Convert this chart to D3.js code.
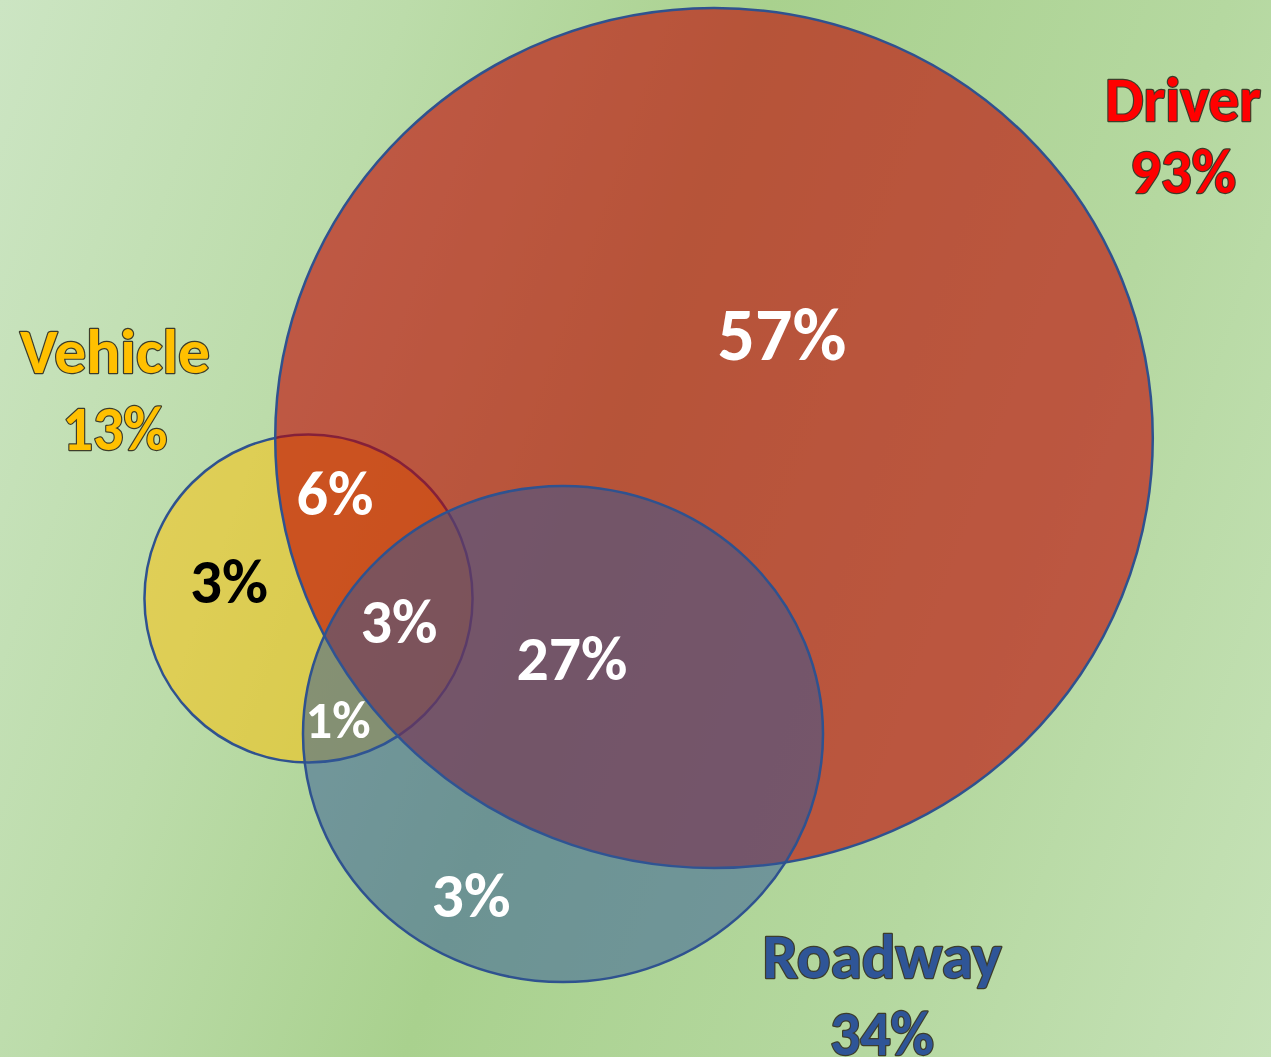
<!DOCTYPE html>
<html>
<head>
<meta charset="utf-8">
<script src="https://cdn.jsdelivr.net/npm/d3@7"></script>
<style>
  html, body { margin: 0; padding: 0; background: #b5d7a0; }
  svg { display: block; }
  text { font-family: Carlito, Calibri, Lato, "Open Sans", sans-serif; font-weight: 700; }
</style>
</head>
<body>
<svg id="chart" width="1271" height="1057"></svg>
<script>
// Share of crashes with a contributing factor in each group
const setNames = ["Vehicle", "Driver", "Roadway"];
const setShares = [13, 93, 34];

// Exclusive overlap regions and their shares
const regionNames = ["Driver only", "Vehicle + Driver", "Vehicle only", "All three",
                     "Driver + Roadway", "Vehicle + Roadway", "Roadway only"];
const regionShares = [57, 6, 3, 3, 27, 1, 3];

const fmt = d => d + "%";

// ---- layout ----
const W = 1271, H = 1057;
const svg = d3.select("#chart");

// area-proportional radius
const radius = d3.scaleSqrt().domain([0, 100]).range([0, 455]);

const shapeLayout = {
  Vehicle: { cx: 308.5, cy: 598.5, ax: 1.0,  ay: 1.0,   fill: "#ffc000", op: 0.5,
             label: "#ffc000", lx: 115, ly: 373, gap: 77, w1: 190, w2: 105 },
  Driver:  { cx: 714,   cy: 438,   ax: 1.0,  ay: 0.98,  fill: "#c00000", op: 0.6,
             label: "#ff0000", lx: 1183, ly: 121, gap: 72, w1: 156, w2: 106 },
  Roadway: { cx: 563,   cy: 734,   ax: 0.98, ay: 0.935, fill: "#2f5597", op: 0.5,
             label: "#2f5597", lx: 882, ly: 978, gap: 77, w1: 239, w2: 104 }
};

const regionLayout = [
  { x: 782, y: 360, size: 74, w: 129, color: "#ffffff" },
  { x: 335, y: 515, size: 63, w: 77,  color: "#ffffff" },
  { x: 229, y: 603, size: 63, w: 78,  color: "#000000" },
  { x: 399, y: 643, size: 63, w: 77,  color: "#ffffff" },
  { x: 572, y: 680, size: 63, w: 111, color: "#ffffff" },
  { x: 338, y: 738, size: 52, w: 65,  color: "#ffffff" },
  { x: 471, y: 917, size: 63, w: 79,  color: "#ffffff" }
];

// ---- background ----
const defs = svg.append("defs");
const bg = defs.append("linearGradient")
  .attr("id", "bg").attr("gradientUnits", "userSpaceOnUse")
  .attr("x1", 0).attr("y1", 0).attr("x2", 1462).attr("y2", 506);
[[0, "#cce5c3"], [0.25, "#bcdcaa"], [0.47, "#a9d18e"], [0.75, "#b5d8a0"], [1, "#c6e2b8"]]
  .forEach(([o, c]) => bg.append("stop").attr("offset", o).attr("stop-color", c));
svg.append("rect").attr("width", W).attr("height", H).attr("fill", "url(#bg)");

// ---- set shapes ----
const sets = setNames.map((name, i) => ({ name, share: setShares[i], ...shapeLayout[name] }));

svg.append("g").selectAll("ellipse")
  .data(sets)
  .join("ellipse")
  .attr("cx", d => d.cx)
  .attr("cy", d => d.cy)
  .attr("rx", d => radius(d.share) * d.ax)
  .attr("ry", d => radius(d.share) * d.ay)
  .attr("fill", d => d.fill)
  .attr("fill-opacity", d => d.op)
  .attr("stroke", "#2f528f")
  .attr("stroke-width", 2.5);

// ---- region values ----
const regions = regionNames.map((name, i) => ({ name, share: regionShares[i], ...regionLayout[i] }));

svg.append("g").selectAll("text")
  .data(regions)
  .join("text")
  .attr("x", d => d.x)
  .attr("y", d => d.y)
  .attr("text-anchor", "middle")
  .attr("font-size", d => d.size)
  .attr("textLength", d => d.w)
  .attr("lengthAdjust", "spacingAndGlyphs")
  .attr("fill", d => d.color)
  .text(d => fmt(d.share));

// ---- set labels ----
const labels = svg.append("g").selectAll("g")
  .data(sets)
  .join("g");

const labelStyle = sel => sel
  .attr("text-anchor", "middle")
  .attr("font-size", 62)
  .attr("lengthAdjust", "spacingAndGlyphs")
  .attr("fill", d => d.label)
  .attr("stroke", "#3d3d2a")
  .attr("stroke-width", 2.4)
  .attr("stroke-linejoin", "round")
  .style("paint-order", "stroke");

labels.append("text")
  .call(labelStyle)
  .attr("x", d => d.lx)
  .attr("y", d => d.ly)
  .attr("textLength", d => d.w1)
  .text(d => d.name);

labels.append("text")
  .call(labelStyle)
  .attr("x", d => d.lx)
  .attr("y", d => d.ly + d.gap)
  .attr("textLength", d => d.w2)
  .text(d => fmt(d.share));
</script>
</body>
</html>
